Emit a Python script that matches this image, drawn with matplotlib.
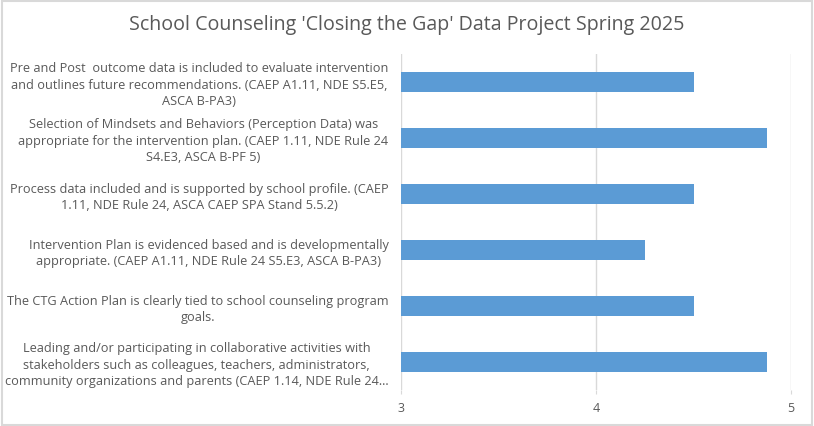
import matplotlib.pyplot as plt
from matplotlib.patches import Rectangle

title = "School Counseling 'Closing the Gap' Data Project Spring 2025"
labels = [
    "Pre and Post  outcome data is included to evaluate intervention\nand outlines future recommendations. (CAEP A1.11, NDE S5.E5,\nASCA B-PA3)",
    "Selection of Mindsets and Behaviors (Perception Data) was\nappropriate for the intervention plan. (CAEP 1.11, NDE Rule 24\nS4.E3, ASCA B-PF 5)",
    "Process data included and is supported by school profile. (CAEP\n1.11, NDE Rule 24, ASCA CAEP SPA Stand 5.5.2)",
    "Intervention Plan is evidenced based and is developmentally\nappropriate. (CAEP A1.11, NDE Rule 24 S5.E3, ASCA B-PA3)",
    "The CTG Action Plan is clearly tied to school counseling program\ngoals.",
    "Leading and/or participating in collaborative activities with\nstakeholders such as colleagues, teachers, administrators,\ncommunity organizations and parents (CAEP 1.14, NDE Rule 24...",
]
scores = [4.5, 4.875, 4.5, 4.25, 4.5, 4.875]
xticks = [3, 4, 5]

plt.rcParams['font.family'] = ['Open Sans', 'DejaVu Sans']
gray = '#595959'

fig = plt.figure(figsize=(8.14, 4.26), dpi=100)
ax = fig.add_axes([401 / 814, 1 - 390 / 426, 390 / 814, 336 / 426])

ypos = list(range(len(labels)))[::-1]
ax.barh(ypos, [s - 3 for s in scores], left=3, height=0.36, color='#5B9BD5', zorder=3)

ax.set_xlim(3, 5)
ax.set_ylim(-0.5, len(labels) - 0.5)
ax.set_xticks(xticks)
ax.set_xticklabels([str(t) for t in xticks], color=gray, fontsize=9)
ax.tick_params(axis='x', length=3, color='#d9d9d9', pad=6)
ax.set_yticks(ypos)
ax.set_yticklabels(labels, fontsize=9.2, color=gray, multialignment='center', linespacing=1.35)
ax.tick_params(axis='y', length=0, pad=9)
ax.grid(axis='x', color='#d9d9d9', linewidth=1, zorder=0)
for s in ax.spines.values():
    s.set_visible(False)

fig.text(0.5, 1 - 25 / 426, title, ha='center', va='center', fontsize=14.1, color=gray)
fig.patches.append(Rectangle((0.002, 0.003), 0.996, 0.994, transform=fig.transFigure,
                             fill=False, edgecolor='#d9d9d9', linewidth=1.5))

fig.savefig('out.png', dpi=100)
